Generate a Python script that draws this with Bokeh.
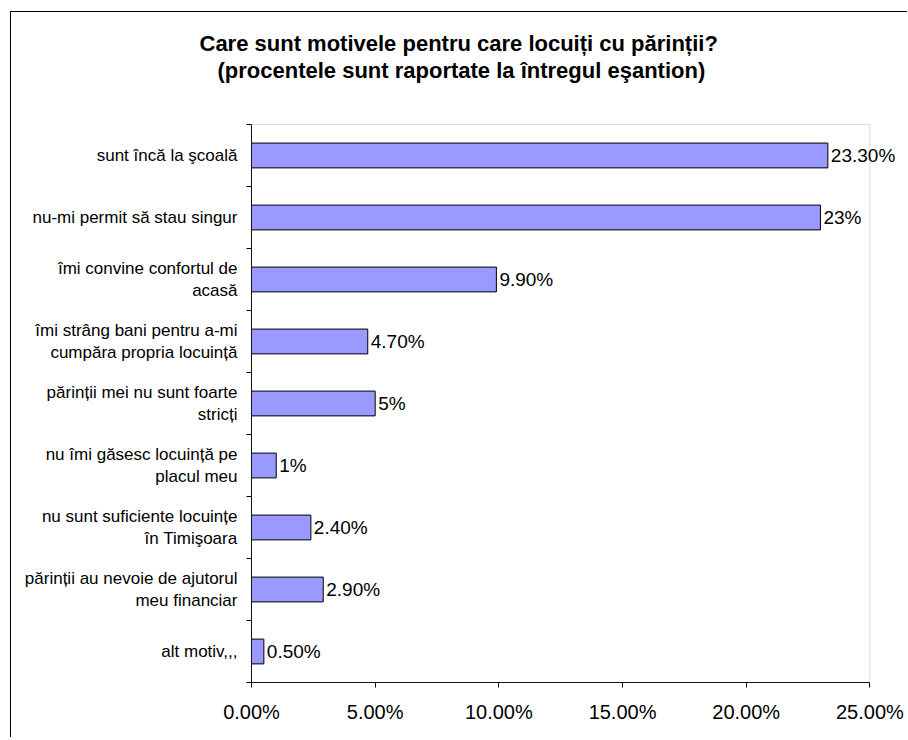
from bokeh.plotting import figure
from bokeh.models import ColumnDataSource, LabelSet, FixedTicker, Range1d, Title, BoxAnnotation
from bokeh.core.properties import value
from bokeh.embed import file_html
from bokeh.resources import INLINE

categories = [
    "sunt încă la şcoală",
    "nu-mi permit să stau singur",
    "îmi convine confortul de\nacasă",
    "îmi strâng bani pentru a-mi\ncumpăra propria locuință",
    "părinții mei nu sunt foarte\nstricți",
    "nu îmi găsesc locuință pe\nplacul meu",
    "nu sunt suficiente locuințe\nîn Timişoara",
    "părinții au nevoie de ajutorul\nmeu financiar",
    "alt motiv,,,",
]
values = [23.3, 23.0, 9.9, 4.7, 5.0, 1.0, 2.4, 2.9, 0.5]
value_labels = ["23.30%", "23%", "9.90%", "4.70%", "5%", "1%", "2.40%", "2.90%", "0.50%"]
x_ticks = [0, 5, 10, 15, 20, 25]
x_tick_labels = ["0.00%", "5.00%", "10.00%", "15.00%", "20.00%", "25.00%"]
title_lines = [
    "Care sunt motivele pentru care locuiți cu părinții?",
    "(procentele sunt raportate la întregul eşantion)",
]

n = len(categories)
x_max = 25
centers = [n - 0.5 - i for i in range(n)]

FONT = "Liberation Sans"

source = ColumnDataSource(dict(y=centers, x=values, lab=value_labels))

p = figure(
    width=897, height=726,
    x_range=Range1d(0, 26.56), y_range=Range1d(0, n + 0.677),
    output_backend="svg", toolbar_location=None,
    min_border_left=240, min_border_right=0,
    min_border_top=70, min_border_bottom=56,
)
p.styles = {"border-left": "1px solid black", "border-top": "1px solid black",
            "margin-left": "10px", "margin-top": "11px"}
p.background_fill_color = "white"
p.border_fill_color = "white"
p.outline_line_color = None
p.xgrid.visible = False
p.ygrid.visible = False

# plot-area border (grey, as in the original)
p.add_layout(BoxAnnotation(left=0, right=x_max, bottom=0, top=n,
                           fill_alpha=0, line_color="#808080", line_width=1))

p.hbar(y="y", right="x", left=0, height=0.4, source=source,
       fill_color="#9999FF", line_color="black", line_width=1)

labels = LabelSet(x="x", y="y", text="lab", source=source, x_offset=3,
                  text_baseline="middle", text_align="left",
                  text_font=value(FONT), text_font_size="19px", text_color="black")
p.add_layout(labels)

xa = p.xaxis[0]
xa.bounds = (0, x_max)
xa.ticker = FixedTicker(ticks=x_ticks, minor_ticks=[])
xa.major_label_overrides = {t: l for t, l in zip(x_ticks, x_tick_labels)}
xa.major_tick_out = 5
xa.major_tick_in = 0
xa.minor_tick_out = 0
xa.minor_tick_in = 0
xa.axis_line_color = "black"
xa.major_tick_line_color = "black"
xa.major_label_text_font = FONT
xa.major_label_text_font_size = "20px"
xa.major_label_text_color = "black"
xa.major_label_standoff = 13

ya = p.yaxis[0]
ya.bounds = (0, n)
ya.ticker = FixedTicker(ticks=centers, minor_ticks=list(range(n + 1)))
ya.major_label_overrides = {c: l for c, l in zip(centers, categories)}
ya.major_tick_out = 0
ya.major_tick_in = 0
ya.minor_tick_out = 5
ya.minor_tick_in = 0
ya.minor_tick_line_color = "black"
ya.axis_line_color = "black"
ya.major_label_text_font = FONT
ya.major_label_text_font_size = "17px"
ya.major_label_text_color = "black"
ya.major_label_standoff = 9

# two title lines; the first added sits closest to the plot frame
p.add_layout(Title(text=title_lines[1], align="left", offset=-34, standoff=0,
                   text_font=FONT, text_font_style="bold", text_font_size="22px",
                   text_color="black"), "above")
p.add_layout(Title(text=title_lines[0], align="left", offset=-52, standoff=0,
                   text_font=FONT, text_font_style="bold", text_font_size="22px",
                   text_color="black"), "above")

open("out.html", "w").write(file_html(p, INLINE))
